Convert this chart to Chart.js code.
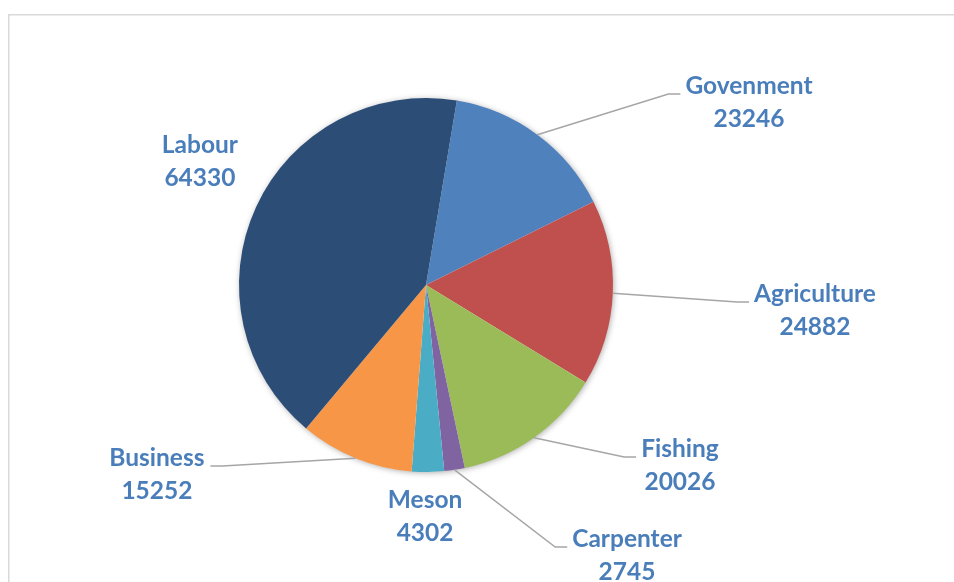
<!DOCTYPE html>
<html>
<head>
<meta charset="utf-8">
<style>
  html, body { margin: 0; padding: 0; background: #ffffff; overflow: hidden; }
  canvas { display: block; }
</style>
<script src="https://cdn.jsdelivr.net/npm/chart.js@4.4.1/dist/chart.umd.min.js"></script>
</head>
<body>
<canvas id="c" width="954" height="582"></canvas>
<script>
// ---- data ----
const categories = ["Govenment", "Agriculture", "Fishing", "Carpenter", "Meson", "Business", "Labour"];
const values = [23246, 24882, 20026, 2745, 4302, 15252, 64330];
const sliceColors = ["#4f81bd", "#c0504d", "#9bbb59", "#8064a2", "#4bacc6", "#f79646", "#2c4d75"];

// ---- label layout (offsets of first-line baseline from pie centre, in radius units) ----
const labelOffsets = [
  [1.727, -1.021],
  [2.080, 0.091],
  [1.358, 0.920],
  [1.075, 1.401],
  [-0.005, 1.193],
  [-1.439, 0.968],
  [-1.209, -0.706]
];
const hasLeader = [true, true, true, true, false, true, false];

const LABEL_FONT = "bold 24.5px Lato, 'Open Sans', sans-serif";
const LABEL_COLOR = "#4a7ebb";
const LINE_GAP = 33;

const framePlugin = {
  id: 'frame',
  beforeDraw(chart) {
    const ctx = chart.ctx;
    ctx.save();
    ctx.strokeStyle = '#d9d9d9';
    ctx.lineWidth = 1.5;
    ctx.strokeRect(8.75, 14.75, 1000, 1000);
    ctx.restore();
  },
  beforeDatasetsDraw(chart) {
    const meta = chart.getDatasetMeta(0);
    if (!meta.data.length) return;
    const a = meta.data[0];
    const ctx = chart.ctx;
    ctx.save();
    ctx.shadowColor = 'rgba(0,0,0,0.35)';
    ctx.shadowBlur = 6;
    ctx.shadowOffsetX = 1;
    ctx.shadowOffsetY = 1;
    ctx.fillStyle = '#ffffff';
    ctx.beginPath();
    ctx.arc(a.x, a.y, a.outerRadius - 0.5, 0, Math.PI * 2);
    ctx.fill();
    ctx.restore();
  }
};

const labelPlugin = {
  id: 'labels',
  afterDatasetsDraw(chart) {
    const meta = chart.getDatasetMeta(0);
    const ctx = chart.ctx;
    ctx.save();
    ctx.font = LABEL_FONT;
    meta.data.forEach((arc, i) => {
      const cx = arc.x, cy = arc.y, r = arc.outerRadius;
      const mid = (arc.startAngle + arc.endAngle) / 2;
      const lx = cx + labelOffsets[i][0] * r;
      const ly = cy + labelOffsets[i][1] * r;
      const line1 = categories[i];
      const line2 = String(values[i]);
      const w1 = ctx.measureText(line1).width;
      if (hasLeader[i]) {
        const ex = cx + Math.cos(mid) * r;
        const ey = cy + Math.sin(mid) * r;
        const right = lx > cx;
        const edge = right ? lx - w1 / 2 - 5 : lx + w1 / 2 + 6;
        const kink = right ? edge - 12 : edge + 12;
        ctx.strokeStyle = '#a6a6a6';
        ctx.lineWidth = 1.5;
        ctx.beginPath();
        ctx.moveTo(ex, ey);
        ctx.lineTo(kink, ly);
        ctx.lineTo(edge, ly);
        ctx.stroke();
      }
      ctx.fillStyle = LABEL_COLOR;
      ctx.textAlign = 'center';
      ctx.textBaseline = 'alphabetic';
      ctx.fillText(line1, lx, ly);
      ctx.fillText(line2, lx, ly + LINE_GAP);
    });
    ctx.restore();
  }
};

new Chart(document.getElementById('c'), {
  type: 'pie',
  data: {
    labels: categories,
    datasets: [{
      data: values,
      backgroundColor: sliceColors,
      borderWidth: 0,
      hoverOffset: 0
    }]
  },
  options: {
    responsive: false,
    animation: false,
    rotation: 9.5,
    layout: { padding: { left: 239, right: 341, top: 98, bottom: 110 } },
    plugins: {
      legend: { display: false },
      tooltip: { enabled: false },
      title: { display: false }
    },
    events: []
  },
  plugins: [framePlugin, labelPlugin]
});
</script>
</body>
</html>
